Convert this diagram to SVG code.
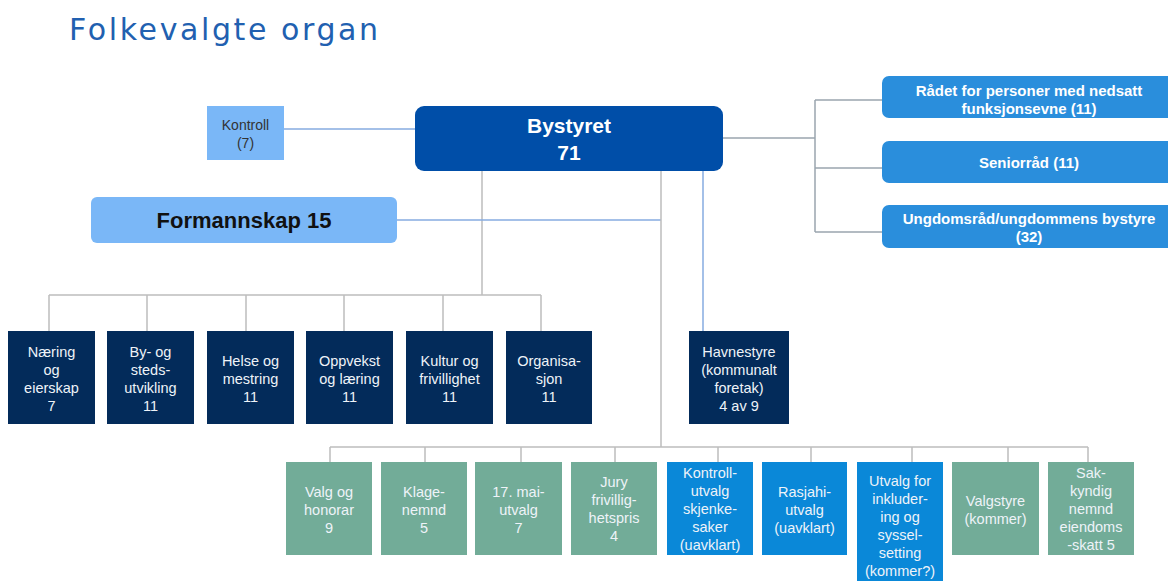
<svg xmlns="http://www.w3.org/2000/svg" width="1168" height="581" viewBox="0 0 1168 581">
<style>
.t{font-family:"Liberation Sans",Arial,sans-serif;font-size:14.5px;text-anchor:middle;fill:#eef3f8}
.b{font-family:"Liberation Sans",Arial,sans-serif;font-weight:bold;text-anchor:middle}
.navy{fill:#032b5a}
.green{fill:#72ac98}
.bright{fill:#0a88d8}
.lb{fill:#7ab7f7}
.rb{fill:#2a8edc}
.g{stroke:#bdbdbd;stroke-width:1.5;fill:none}
.gb{stroke:#9aa4ae;stroke-width:1.5;fill:none}
.bl{stroke:#86abe0;stroke-width:1.5;fill:none}
</style>
<rect width="1168" height="581" fill="#ffffff"/>
<text x="69" y="39.5" font-family="DejaVu Sans,Verdana,sans-serif" font-size="30" letter-spacing="2.6" fill="#2160b0">Folkevalgte organ</text>

<g id="connectors">
<line class="bl" x1="284" y1="129" x2="415" y2="129"/>
<polyline class="gb" points="723,138 815,138"/>
<line class="gb" x1="815" y1="100" x2="815" y2="232"/>
<line class="gb" x1="815" y1="100" x2="882" y2="100"/>
<line class="gb" x1="815" y1="168" x2="882" y2="168"/>
<line class="gb" x1="815" y1="232" x2="882" y2="232"/>
<line class="g" x1="482" y1="171" x2="482" y2="295"/>
<line class="g" x1="49" y1="295" x2="541" y2="295"/>
<line class="g" x1="49" y1="295" x2="49" y2="331"/>
<line class="g" x1="147" y1="295" x2="147" y2="331"/>
<line class="g" x1="246" y1="295" x2="246" y2="331"/>
<line class="g" x1="344" y1="295" x2="344" y2="331"/>
<line class="g" x1="443" y1="295" x2="443" y2="331"/>
<line class="g" x1="541" y1="295" x2="541" y2="331"/>
<line class="bl" x1="397" y1="220" x2="661" y2="220"/>
<line class="g" x1="661" y1="171" x2="661" y2="447"/>
<line class="bl" x1="703" y1="171" x2="703" y2="331"/>
<line class="g" x1="330" y1="447" x2="1088" y2="447"/>
<line class="g" x1="330" y1="447" x2="330" y2="462"/>
<line class="g" x1="425" y1="447" x2="425" y2="462"/>
<line class="g" x1="521" y1="447" x2="521" y2="462"/>
<line class="g" x1="615" y1="447" x2="615" y2="462"/>
<line class="g" x1="718" y1="447" x2="718" y2="462"/>
<line class="g" x1="811" y1="447" x2="811" y2="462"/>
<line class="g" x1="912" y1="447" x2="912" y2="462"/>
<line class="g" x1="1008" y1="447" x2="1008" y2="462"/>
<line class="g" x1="1088" y1="447" x2="1088" y2="462"/>
</g>

<g id="kontroll">
<rect class="lb" x="207" y="106" width="77" height="54"/>
<text class="t" style="fill:#333;font-size:14px" x="245.5" y="130">Kontroll<tspan x="245.5" dy="18">(7)</tspan></text>
</g>
<g id="bystyret">
<rect x="415" y="106" width="308" height="65" rx="9" fill="#004ea8"/>
<text class="b" x="569" y="133" font-size="21" fill="#ffffff">Bystyret<tspan x="569" dy="27">71</tspan></text>
</g>
<g id="formannskap">
<rect class="lb" x="91" y="197" width="306" height="46" rx="6"/>
<text class="b" x="244" y="228" font-size="22" fill="#111111">Formannskap 15</text>
</g>
<g id="raadet">
<rect class="rb" x="882" y="76" width="300" height="42" rx="7"/>
<text class="b" x="1029" y="96" font-size="15" fill="#ffffff">Rådet for personer med nedsatt<tspan x="1029" dy="18">funksjonsevne (11)</tspan></text>
</g>
<g id="seniorraad">
<rect class="rb" x="882" y="141" width="300" height="42" rx="7"/>
<text class="b" x="1029" y="168" font-size="15" fill="#ffffff">Seniorråd (11)</text>
</g>
<g id="ungdomsraad">
<rect class="rb" x="882" y="205" width="300" height="43" rx="7"/>
<text class="b" x="1029" y="224" font-size="15" fill="#ffffff">Ungdomsråd/ungdommens bystyre<tspan x="1029" dy="18">(32)</tspan></text>
</g>

<g id="naering">
<rect class="navy" x="8" y="331" width="87" height="93"/>
<text class="t" x="51.5" y="357">Næring<tspan x="51.5" dy="18">og</tspan><tspan x="51.5" dy="18">eierskap</tspan><tspan x="51.5" dy="18">7</tspan></text>
</g>
<g id="by-og-steds">
<rect class="navy" x="107" y="331" width="87" height="93"/>
<text class="t" x="150.5" y="357">By- og<tspan x="150.5" dy="18">steds-</tspan><tspan x="150.5" dy="18">utvikling</tspan><tspan x="150.5" dy="18">11</tspan></text>
</g>
<g id="helse">
<rect class="navy" x="207" y="331" width="87" height="93"/>
<text class="t" x="250.5" y="366">Helse og<tspan x="250.5" dy="18">mestring</tspan><tspan x="250.5" dy="18">11</tspan></text>
</g>
<g id="oppvekst">
<rect class="navy" x="306" y="331" width="87" height="93"/>
<text class="t" x="349.5" y="366">Oppvekst<tspan x="349.5" dy="18">og læring</tspan><tspan x="349.5" dy="18">11</tspan></text>
</g>
<g id="kultur">
<rect class="navy" x="406" y="331" width="87" height="93"/>
<text class="t" x="449.5" y="366">Kultur og<tspan x="449.5" dy="18">frivillighet</tspan><tspan x="449.5" dy="18">11</tspan></text>
</g>
<g id="organisasjon">
<rect class="navy" x="506" y="331" width="86" height="93"/>
<text class="t" x="549" y="366">Organisa-<tspan x="549" dy="18">sjon</tspan><tspan x="549" dy="18">11</tspan></text>
</g>
<g id="havnestyre">
<rect class="navy" x="689" y="331" width="100" height="93"/>
<text class="t" x="739" y="357">Havnestyre<tspan x="739" dy="18">(kommunalt</tspan><tspan x="739" dy="18">foretak)</tspan><tspan x="739" dy="18">4 av 9</tspan></text>
</g>

<g id="valg-honorar">
<rect class="green" x="286" y="462" width="86" height="93"/>
<text class="t" x="329" y="497">Valg og<tspan x="329" dy="18">honorar</tspan><tspan x="329" dy="18">9</tspan></text>
</g>
<g id="klagenemnd">
<rect class="green" x="381" y="462" width="86" height="93"/>
<text class="t" x="424" y="497">Klage-<tspan x="424" dy="18">nemnd</tspan><tspan x="424" dy="18">5</tspan></text>
</g>
<g id="mai-utvalg">
<rect class="green" x="475" y="462" width="87" height="93"/>
<text class="t" x="518.5" y="497">17. mai-<tspan x="518.5" dy="18">utvalg</tspan><tspan x="518.5" dy="18">7</tspan></text>
</g>
<g id="jury">
<rect class="green" x="571" y="462" width="86" height="93"/>
<text class="t" x="614" y="487">Jury<tspan x="614" dy="18">frivillig-</tspan><tspan x="614" dy="18">hetspris</tspan><tspan x="614" dy="18">4</tspan></text>
</g>
<g id="kontrollutvalg">
<rect class="bright" x="667" y="462" width="86" height="93"/>
<text class="t" x="710" y="478">Kontroll-<tspan x="710" dy="18">utvalg</tspan><tspan x="710" dy="18">skjenke-</tspan><tspan x="710" dy="18">saker</tspan><tspan x="710" dy="18">(uavklart)</tspan></text>
</g>
<g id="rasjahi">
<rect class="bright" x="762" y="462" width="85" height="93"/>
<text class="t" x="804.5" y="497">Rasjahi-<tspan x="804.5" dy="18">utvalg</tspan><tspan x="804.5" dy="18">(uavklart)</tspan></text>
</g>
<g id="inkludering">
<rect class="bright" x="857" y="462" width="86" height="130"/>
<text class="t" x="900" y="486">Utvalg for<tspan x="900" dy="18">inkluder-</tspan><tspan x="900" dy="18">ing og</tspan><tspan x="900" dy="18">syssel-</tspan><tspan x="900" dy="18">setting</tspan><tspan x="900" dy="18">(kommer?)</tspan></text>
</g>
<g id="valgstyre">
<rect class="green" x="952" y="462" width="87" height="93"/>
<text class="t" x="995.5" y="506">Valgstyre<tspan x="995.5" dy="18">(kommer)</tspan></text>
</g>
<g id="sakkyndig">
<rect class="green" x="1048" y="462" width="86" height="93"/>
<text class="t" x="1091" y="478">Sak-<tspan x="1091" dy="18">kyndig</tspan><tspan x="1091" dy="18">nemnd</tspan><tspan x="1091" dy="18">eiendoms</tspan><tspan x="1091" dy="18">-skatt 5</tspan></text>
</g>
</svg>
